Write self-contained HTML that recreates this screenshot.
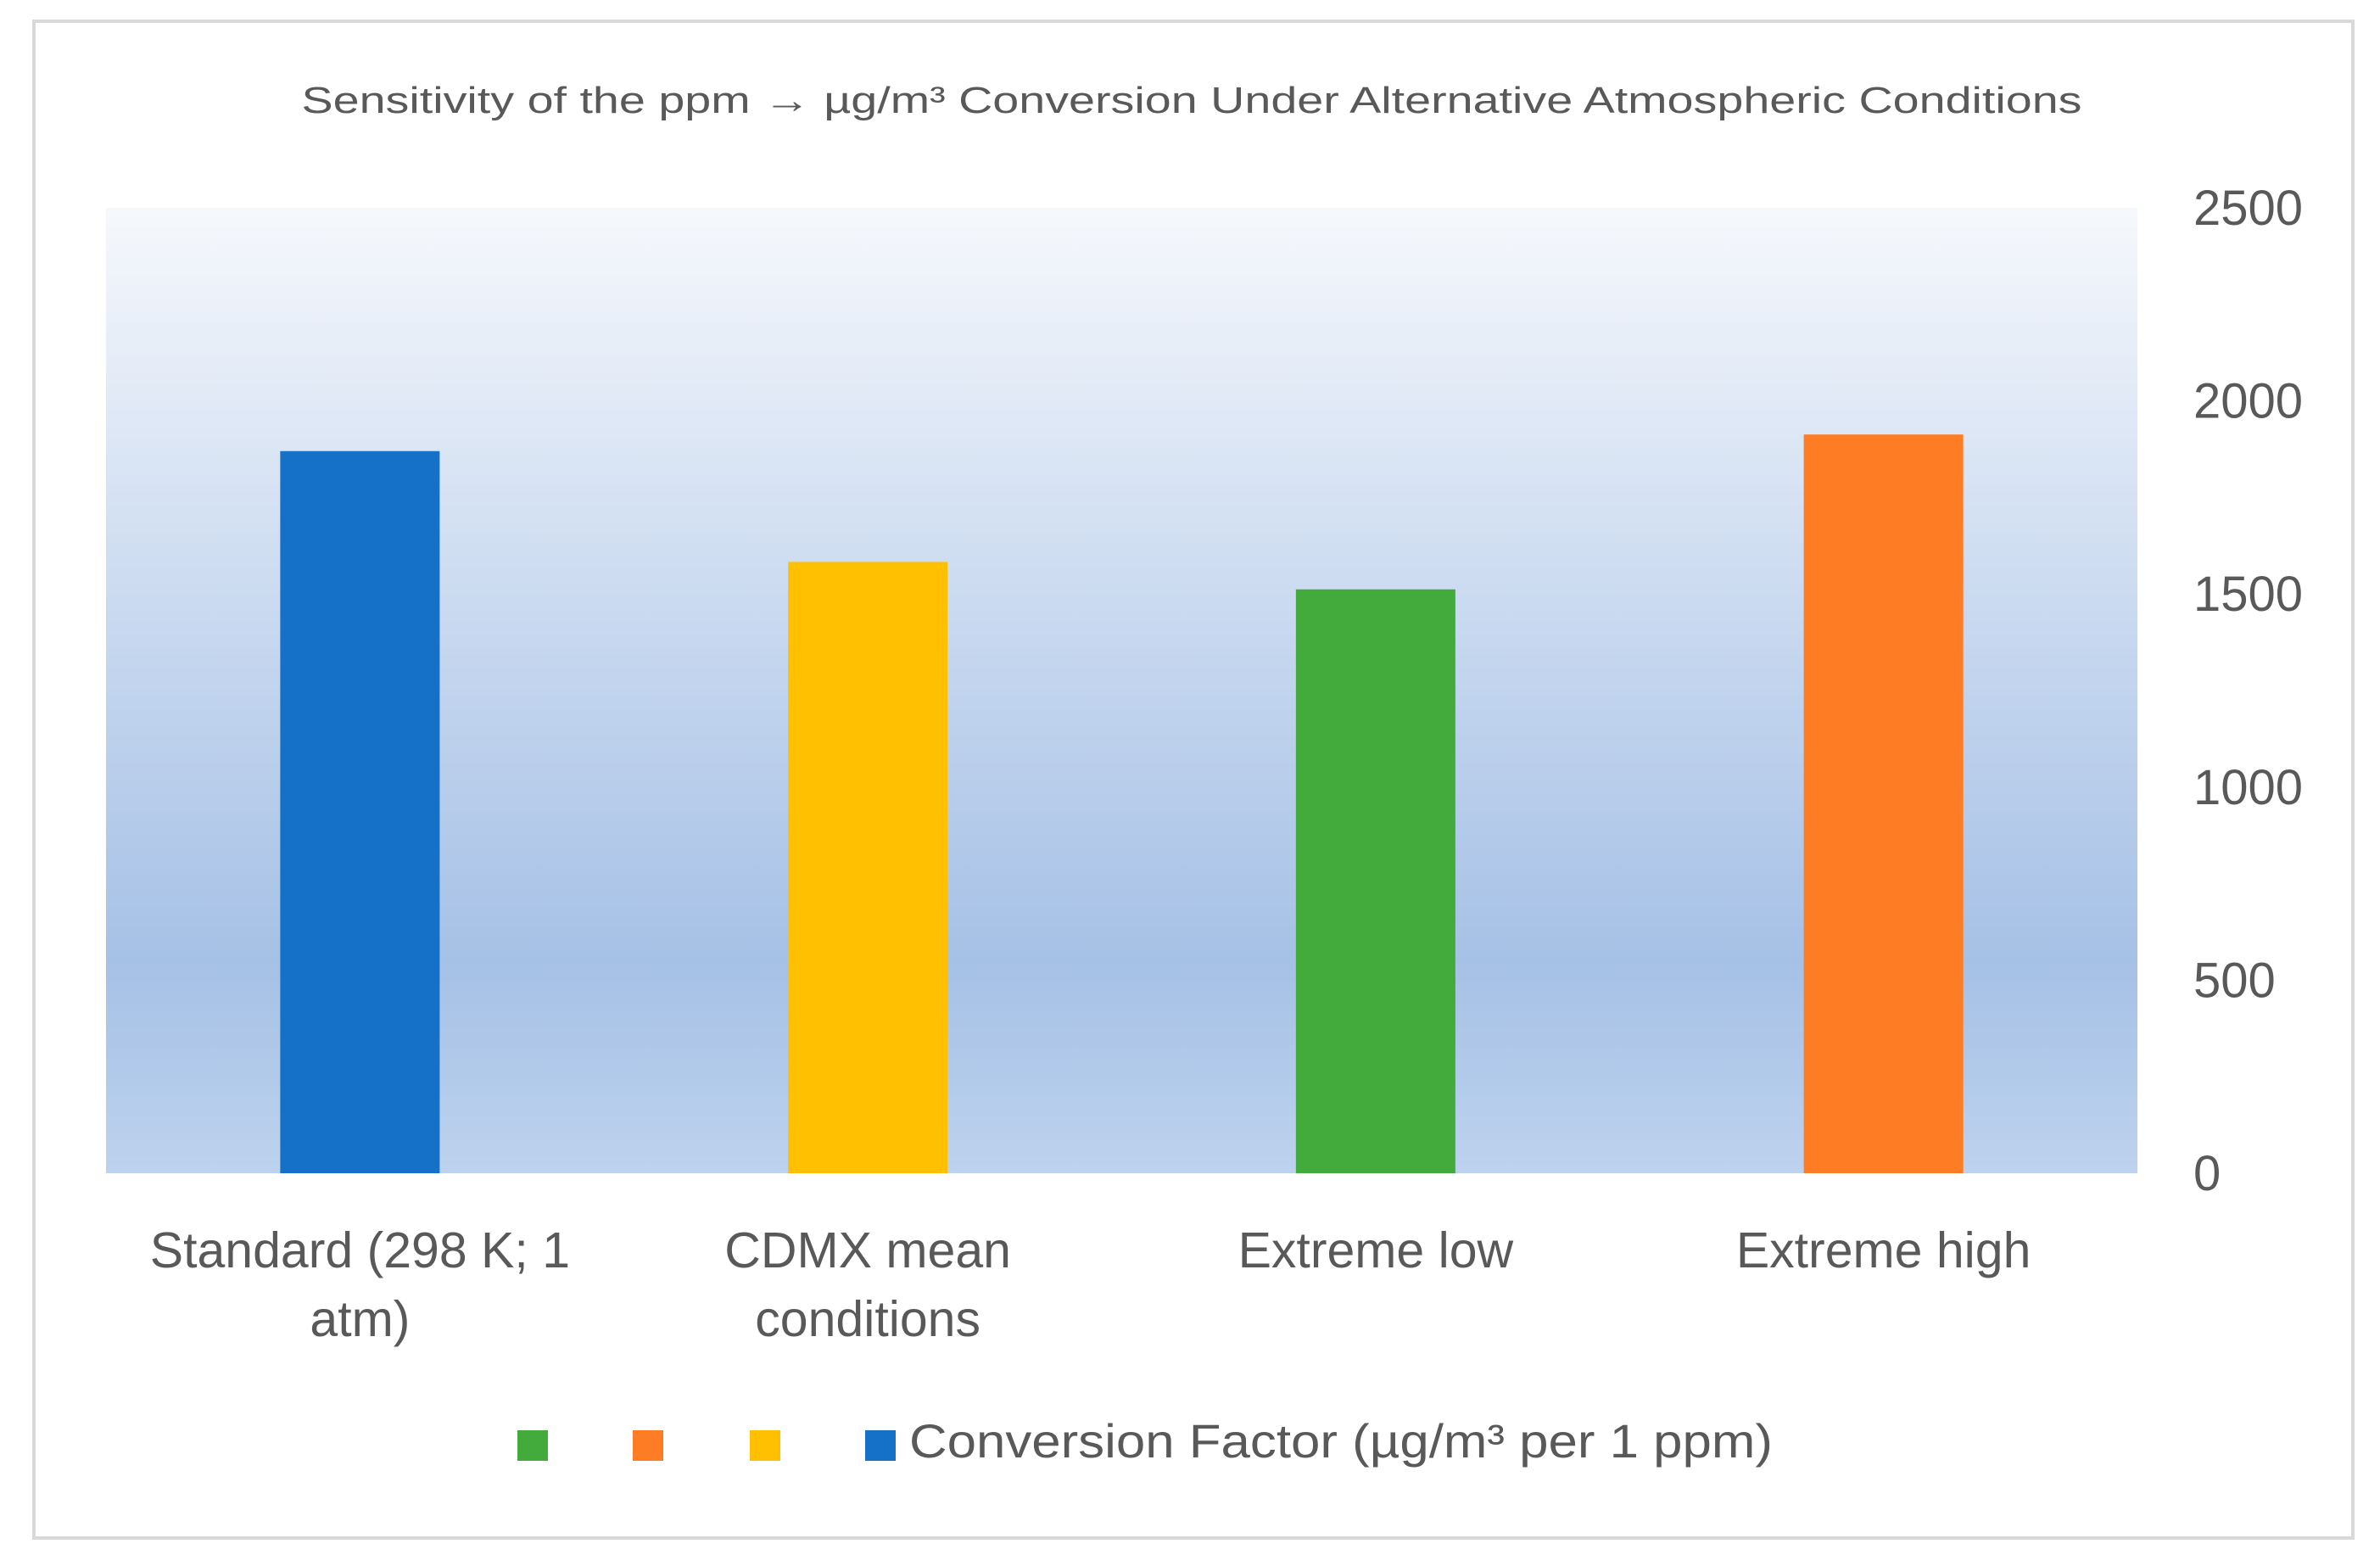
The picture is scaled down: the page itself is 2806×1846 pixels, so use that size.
<!DOCTYPE html>
<html><head><meta charset="utf-8"><style>
html,body{margin:0;padding:0;background:#fff}
svg{display:block}
text{font-family:"Liberation Sans",sans-serif;fill:#595959}
</style></head><body>
<svg width="2806" height="1846" viewBox="0 0 2806 1846">
<defs>
<linearGradient id="bg" x1="0" y1="0" x2="0" y2="1">
<stop offset="0" stop-color="#f6f8fc"/>
<stop offset="0.45" stop-color="#c6d7ef"/>
<stop offset="0.78" stop-color="#a6c1e6"/>
<stop offset="1" stop-color="#bdd2ee"/>
</linearGradient>
</defs>
<rect x="40" y="25" width="2734" height="1788" fill="#fff" stroke="#d9d9d9" stroke-width="4"/>
<text x="1405" y="133" font-size="44" text-anchor="middle" textLength="2099" lengthAdjust="spacingAndGlyphs">Sensitivity of the ppm → µg/m³ Conversion Under Alternative Atmospheric Conditions</text>
<rect x="125" y="245" width="2395" height="1138" fill="url(#bg)"/>
<g id="bars"></g>
<g id="yticks"></g>
<g id="xlabels"></g>
<g>
<rect x="610" y="1686" width="36" height="36" fill="#43ab3b"/>
<rect x="746" y="1686" width="36" height="36" fill="#fd7c24"/>
<rect x="884" y="1686" width="36" height="36" fill="#fec000"/>
<rect x="1020" y="1686" width="36" height="36" fill="#1570c8"/>
<text x="1072" y="1718" font-size="56" textLength="1018" lengthAdjust="spacingAndGlyphs">Conversion Factor (µg/m³ per 1 ppm)</text>
</g>
</svg>
<script>
const categories = [["Standard (298 K; 1","atm)"],["CDMX mean","conditions"],["Extreme low"],["Extreme high"]];
const values = [1870, 1583, 1512, 1913];
const colors = ["#1570c8","#fec000","#43ab3b","#fd7c24"];
const ticks = [0,500,1000,1500,2000,2500];
const NS="http://www.w3.org/2000/svg";
const X0=125,X1=2520,Y0=1383,Y1=245,YMAX=2500;
const band=(X1-X0)/categories.length;
const y=v=>Y0-(v/YMAX)*(Y0-Y1);
const xc=i=>X0+band*(i+0.5);
const bw=band*0.314;
const gb=document.getElementById('bars');
values.forEach((v,i)=>{
 const r=document.createElementNS(NS,'rect');
 r.setAttribute('x',xc(i)-bw/2);r.setAttribute('y',y(v));
 r.setAttribute('width',bw);r.setAttribute('height',Y0-y(v));
 r.setAttribute('fill',colors[i]);
 
 
 gb.appendChild(r);
});
const gy=document.getElementById('yticks');
ticks.forEach(t=>{
 const tx=document.createElementNS(NS,'text');
 tx.setAttribute('x',2586);tx.setAttribute('y',y(t)+20);
 tx.setAttribute('font-size','58');
 tx.textContent=t;
 
 
 gy.appendChild(tx);
});
const gx=document.getElementById('xlabels');
categories.forEach((lines,i)=>{
 lines.forEach((l,j)=>{
  const tx=document.createElementNS(NS,'text');
  tx.setAttribute('x',xc(i));tx.setAttribute('y',1494+j*81);
  tx.setAttribute('font-size','59');tx.setAttribute('text-anchor','middle');
  tx.textContent=l;
  
  
  gx.appendChild(tx);
 });
});
</script>
</body></html>
